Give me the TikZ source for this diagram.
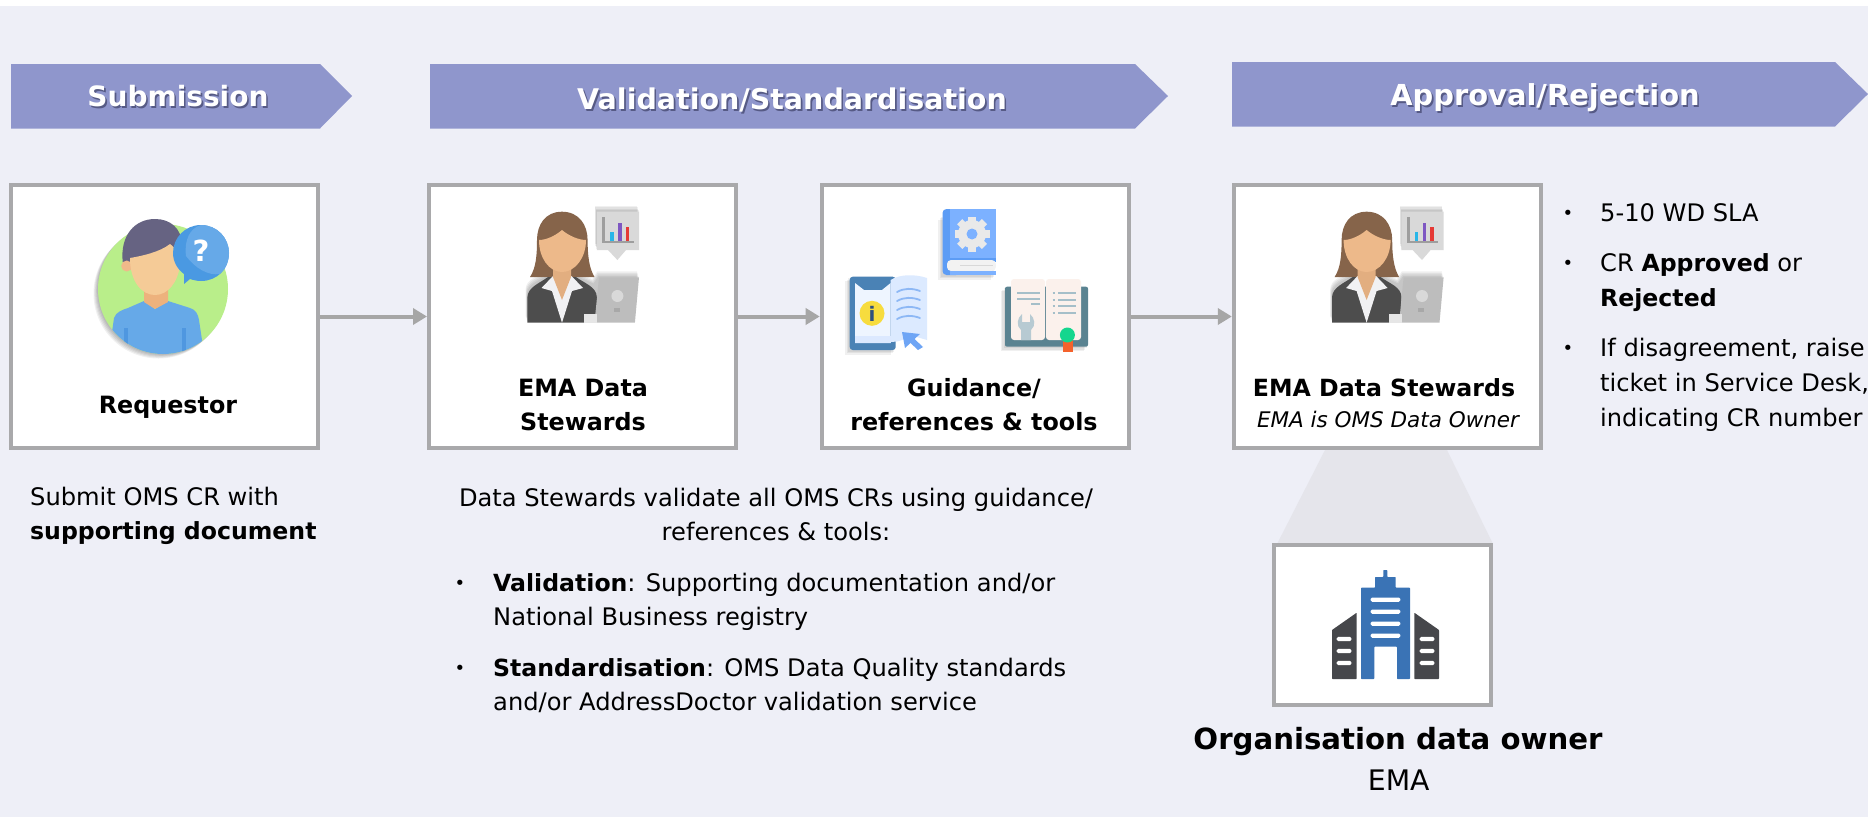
\documentclass[tikz,border=0pt]{standalone}
\usepackage{fontspec}
\setmainfont{DejaVu Sans}
\usetikzlibrary{arrows.meta}
\definecolor{pagebg}{HTML}{EEEFF7}
\definecolor{headfill}{HTML}{8F96CC}
\definecolor{boxline}{HTML}{A9A9AB}
\definecolor{arrowc}{HTML}{A6A6A6}
\definecolor{funnel}{HTML}{E5E5EB}
\definecolor{bldblue}{HTML}{3A73B5}
\definecolor{blddark}{HTML}{46474B}
\definecolor{headshadow}{HTML}{565A85}
\definecolor{infoink}{HTML}{2E4F7F}
\newcommand\fs[2]{\fontsize{#1}{#2}\selectfont}
\newcommand\shtext[1]{\leavevmode\rlap{\kern1.6pt\raisebox{-1.6pt}{\textcolor{headshadow}{#1}}}#1}
\newcommand\bb[1]{{\bfseries\fontsize{23.6}{34}\selectfont #1}}
\tikzset{
  HTML/.code={\definecolor{tmpc}{HTML}{#1}\pgfkeysalso{color=tmpc}},
  stagebox/.style={draw=boxline,line width=4pt,fill=white,minimum width=307pt,minimum height=263pt,inner sep=0pt},
  conn/.style={draw=arrowc,line width=4pt,-{Triangle[length=14pt,width=16pt]}},
  headbar/.style={fill=headfill},
  headtext/.style={text=white,font=\bfseries\fs{28}{34},inner sep=0pt,anchor=center},
  boxlabel/.style={font=\bfseries\fs{23.8}{34},align=center,inner sep=0pt,anchor=base},
  bodytext/.style={font=\fs{24.15}{34},align=left,inner sep=0pt,anchor=base west},
  sidetext/.style={bodytext,font=\fs{24.15}{35}},
  bulletmark/.style={font=\fs{18}{18},inner sep=0pt,anchor=base},
  softshadow/.style={fill=black,fill opacity=.06,draw=none},
}
\newcommand\womanicon{%
  \foreach \d in {1.5,3,4.5,6}{%
    \begin{scope}[shift={(-0.3*\d pt,\d pt)}]
      \path[softshadow] (527.4,322.7) -- (527.4,295) .. controls (528,285) and (540,282) .. (548,277) -- (576,277) -- (594,285) -- (599,277.3) -- (639,277.3) -- (634.9,322.7) -- cycle;
      \path[softshadow] (596.8,211.7) rectangle (639,250);
    \end{scope}}
  \fill[HTML=86644A] (562,211.7) .. controls (545,211.7) and (537,225) .. (537,240) .. controls (537,255) and (536,268) .. (530,277) -- (594.5,277) .. controls (589,268) and (587.6,255) .. (587.6,240) .. controls (587.6,225) and (579,211.7) .. (562,211.7) -- cycle;
  \fill[HTML=4D4D4D] (527.4,322.7) -- (527.4,297) .. controls (528,287) and (540,283) .. (548,277) -- (576,277) .. controls (584,283) and (596.8,287) .. (596.8,297) -- (596.8,322.7) -- cycle;
  \fill[HTML=F1F1F3] (553,276) -- (541.5,288) -- (552,291) -- (562,322.7) -- (572,291) -- (583,288) -- (571.5,276) -- cycle;
  \fill[HTML=E2AE80] (553,262) -- (571,262) -- (571,277) -- (562,300) -- (553,277) -- cycle;
  \fill[HTML=EDB98A] (539,240) .. controls (546,240) and (555,236) .. (562,230) .. controls (569,236) and (579,240) .. (586,240) .. controls (586,258) and (575,272) .. (562,272) .. controls (549,272) and (539,258) .. (539,240) -- cycle;
  \fill[HTML=BDBDBD] (599,277.3) -- (639,277.3) -- (634.9,322.7) -- (594.5,322.7) -- cycle;
  \fill[HTML=E6E6E6] (584,314) rectangle (597,322.7);
  \fill[HTML=D9D9D9] (617.4,296) ellipse[x radius=6pt,y radius=6pt];
  \fill[HTML=A8A8A8] (613.5,307.5) rectangle (619.5,312);
  \fill[HTML=D9D9D9] (596.8,211.7) -- (639,211.7) -- (639,250) -- (626,250) -- (617.4,260) -- (608,250) -- (596.8,250) -- cycle;
  \draw[HTML=9E9E9E,line width=2.8pt] (603.7,217) -- (603.7,242) -- (633.5,242);
  \fill[HTML=29B6E8] (610.2,231.7) rectangle (613.8,241);
  \fill[HTML=7E57C2] (617.9,223) rectangle (621.5,241);
  \fill[HTML=E53935] (625.7,227) rectangle (629.3,241);
}
\begin{document}
\begin{tikzpicture}[x=1pt,y=-1pt]
\useasboundingbox (0,0) rectangle (1868,817);
\fill[white] (0,0) rectangle (1868,817);
\fill[pagebg] (0,6) rectangle (1868,817);

% headers
\fill[headbar] (11,64) -- (320,64) -- (352,96) -- (320,128.5) -- (11,128.5) -- cycle;
\fill[headbar] (430,64) -- (1135,64) -- (1168,96) -- (1135,128.5) -- (430,128.5) -- cycle;
\fill[headbar] (1232,62) -- (1835,62) -- (1868,94) -- (1835,126.5) -- (1232,126.5) -- cycle;
\node[headtext] (hsub) at (178,97) {\shtext{Submission}};
\node[headtext,font=\bfseries\fs{28.5}{34}] (hval) at (792,101) {\shtext{Validation/Standardisation}};
\node[headtext,font=\bfseries\fs{28.9}{34}] (happ) at (1545,98.5) {\shtext{Approval/Rejection}};

% funnel and boxes
\fill[funnel] (1325,450) -- (1447,450) -- (1493,544) -- (1277,544) -- cycle;
\node[stagebox] (req) at (164.8,316.5) {};
\node[stagebox] (ds1) at (582.5,316.5) {};
\node[stagebox] (gd) at (975.2,316.5) {};
\node[stagebox] (ds2) at (1387.3,316.5) {};
\node[draw=boxline,line width=4pt,fill=white,minimum width=217.5pt,minimum height=160pt,inner sep=0pt] (org) at (1382.4,624.7) {};

% connectors
\draw[conn] (req) -- (ds1);
\draw[conn] (ds1) -- (gd);
\draw[conn] (gd) -- (ds2);

% requestor icon
\foreach \d in {1.5,3,4.5,6,7.5}{\path[softshadow] (163-0.6*\d,289+0.6*\d) circle[radius=65pt];}
\fill[HTML=B9EE8A] (163,289) circle[radius=65pt];
\begin{scope}
  \clip (163,289) circle[radius=65pt];
  \fill[HTML=66A9E8] (108,360) -- (114,318) .. controls (116,312) and (122,310) .. (128,308) -- (144,301) -- (155,309) -- (168,301) -- (190,308) .. controls (196,310) and (198,314) .. (199,320) -- (205,360) -- cycle;
  \fill[HTML=4F97E0] (124,328) rectangle (128,360);
  \fill[HTML=4F97E0] (182,328) rectangle (186,360);
\end{scope}
\fill[HTML=EDB27D] (144,285) -- (168,285) -- (168,302) -- (155,309) -- (144,302) -- cycle;
\fill[HTML=666382] (122.7,262) .. controls (120,235) and (135,219) .. (155,219) .. controls (170,219) and (181.7,228) .. (182,245) -- (182,262) -- cycle;
\fill[HTML=F0B98A] (126.7,266) circle[radius=5.5pt];
\fill[HTML=F5CB97] (130,258) .. controls (142,256) and (160,252) .. (170,244) .. controls (178,250) and (180,256) .. (180,265) .. controls (178,282) and (168,295) .. (155,295) .. controls (142,295) and (130,282) .. (130,258) -- cycle;
\fill[HTML=4A99E2] (173,253) .. controls (173,238) and (185,225) .. (201,225) .. controls (217,225) and (229,238) .. (229,253) .. controls (229,269) and (217,281) .. (201,281) .. controls (197,281) and (193,280) .. (190,279) -- (184,284) -- (184,274) .. controls (177,269) and (173,261) .. (173,253) -- cycle;
\fill[HTML=66A9E8] (201,225) .. controls (217,225) and (229,238) .. (229,253) .. controls (229,262) and (225,270) .. (220,274) .. controls (208,276) and (195,268) .. (186,256) .. controls (184,240) and (190,228) .. (201,225) -- cycle;
\node[font=\bfseries\fs{29}{29},text=white,inner sep=0pt,anchor=center] (qm) at (201,251) {?};

% woman icons
\womanicon
\begin{scope}[xshift=804.6pt]\womanicon\end{scope}

% gear book
\foreach \d in {1.5,3,4.5}{\path[softshadow] (942.5-\d,215+\d) rectangle (995.8-\d,275+\d);}
\fill[HTML=5C9CF5,rounded corners=4pt] (942.5,209) rectangle (960,275);
\fill[HTML=7CB1FF] (950,209) rectangle (995.8,262);
\fill[HTML=5C9CF5] (950,258) rectangle (995.8,262);
\fill[HTML=F2F2F2,rounded corners=4pt] (947,260) rectangle (995.8,271);
\fill[HTML=7CB1FF] (950,271) rectangle (995.8,275);
\draw[HTML=D8D8D8,line width=1pt] (960,265.5) -- (993,265.5);
\fill[HTML=E9E9E9] (972,234) circle[radius=14pt];
\foreach \a in {0,45,...,315}{\fill[HTML=E9E9E9,rotate around={\a:(972,234)}] (968.3,216.5) rectangle (975.7,224);}
\fill[HTML=7CB1FF] (972,234) circle[radius=5.5pt];

% info phone/book
\foreach \d in {1.5,3,4.5}{\path[softshadow] (849.7-\d,276.7+\d) rectangle (895.7-\d,350+\d);}
\fill[HTML=4A82B5,rounded corners=3pt] (849.7,276.7) rectangle (895.7,350);
\fill[HTML=EEF5FF] (855,283) -- (864,290) -- (882,290) -- (890.6,283) -- (890.6,343) -- (855,343) -- cycle;
\fill[HTML=DCE9FF] (855,336) rectangle (890.6,343);
\fill[HTML=DCEAFF] (890.6,280) .. controls (900,274) and (915,274) .. (927,278) -- (927,340) -- (910,335) .. controls (905,340) and (898,342) .. (890.6,342) -- cycle;
\foreach \yy in {289,298,307,316}{\draw[HTML=8DB8F5,line width=1.8pt,line cap=round] (897,\yy+3) .. controls (904,\yy-1) and (912,\yy-1) .. (920,\yy+2);}
\fill[HTML=F7DC3E] (872,313.3) circle[radius=12.5pt];
\node[font=\bfseries\fs{20}{20},text=infoink,inner sep=0pt,anchor=center] (inf) at (872,313.5) {i};
\fill[HTML=6EA5F5] (902,332) -- (920,334) -- (914.5,339) -- (923,347) -- (918,350) -- (910.5,343) -- (905,348) -- cycle;

% wrench book
\foreach \d in {1.5,3,4.5}{\path[softshadow] (1005-\d,286.7+\d) rectangle (1088-\d,346.7+\d);}
\fill[HTML=5A8391,rounded corners=2pt] (1005,286.7) rectangle (1088,346.7);
\fill[HTML=FBF1EC,rounded corners=3pt] (1011,279) rectangle (1045,340);
\fill[HTML=FBF1EC,rounded corners=3pt] (1046,279) rectangle (1081,340);
\draw[HTML=A5BFC9,line width=2pt] (1017,293) -- (1040,293) (1017,298.5) -- (1040,298.5) (1031,304) -- (1040,304);
\draw[HTML=A5BFC9,line width=2pt] (1052.7,293.3) -- (1054.5,293.3) (1058,293.3) -- (1075.6,293.3) (1052.7,299.5) -- (1054.5,299.5) (1058,299.5) -- (1075.6,299.5) (1052.7,306) -- (1054.5,306) (1058,306) -- (1075.6,306) (1052.7,312.5) -- (1054.5,312.5) (1058,312.5) -- (1075.6,312.5);
\fill[HTML=B7CAD2] (1021,340) -- (1021,330) .. controls (1016,326) and (1017,318) .. (1022,314) -- (1022,322) -- (1030,322) -- (1030,314) .. controls (1035,318) and (1036,326) .. (1031,330) -- (1031,340) -- cycle;
\fill[HTML=F4622C] (1063,338) rectangle (1073,351.7);
\fill[HTML=14D68E] (1067.4,335) circle[radius=7.5pt];

% building
\fill[blddark,rounded corners=.6pt] (1332,679) -- (1332,630) -- (1356.7,612.7) -- (1356.7,679) -- cycle;
\fill[blddark,rounded corners=.6pt] (1414.3,679) -- (1414.3,612.7) -- (1439,630) -- (1439,679) -- cycle;
\fill[bldblue,rounded corners=.6pt] (1361,679) -- (1361,587.7) -- (1375,587.7) -- (1375,577) -- (1383.3,577) -- (1383.3,570) -- (1387.3,570) -- (1387.3,577) -- (1395.7,577) -- (1395.7,587.7) -- (1410,587.7) -- (1410,679) -- (1397,679) -- (1397,646.7) -- (1374.3,646.7) -- (1374.3,679) -- cycle;
\foreach \yy in {599.7,611.7,623.7,635.7}{\fill[white,rounded corners=1.5pt] (1370.7,\yy-2.2) rectangle (1400.3,\yy+2.2);}
\foreach \yy in {639,651,663}{
  \fill[white,rounded corners=1.5pt] (1336.7,\yy-2.2) rectangle (1351.3,\yy+2.2);
  \fill[white,rounded corners=1.5pt] (1419.7,\yy-2.2) rectangle (1434.3,\yy+2.2);}

% box labels
\node[boxlabel] (lreq) at (168,413) {Requestor};
\node[boxlabel] (lds1) at (583,430.7) {EMA Data\\Stewards};
\node[boxlabel] (lgd) at (974,430.7) {Guidance/\\references \& tools};
\node[boxlabel,font=\bfseries\fs{23.65}{34}] (lds2) at (1384,396) {EMA Data Stewards};
\node[boxlabel,font=\itshape\fs{21.5}{30}] (lds2b) at (1388,427) {EMA is OMS Data Owner};

% left text
\node[bodytext] (tsub) at (30,539) {Submit OMS CR with\\\bb{supporting document}};

% centre text
\node[bodytext,align=center,anchor=base] (tval) at (776,540.7) {Data Stewards validate all OMS CRs using guidance/\\references \& tools:};
\node[bulletmark] (b1) at (460,589.7) {•};
\node[bodytext] (tv1) at (493,625.7) {\bb{Validation}: Supporting documentation and/or\\National Business registry};
\node[bulletmark] (b2) at (460,674.7) {•};
\node[bodytext] (tv2) at (493,710.7) {\bb{Standardisation}: OMS Data Quality standards\\and/or AddressDoctor validation service};

% right text
\node[bulletmark] (r1) at (1568,219.7) {•};
\node[sidetext] (tr1) at (1600,221.7) {5-10 WD SLA};
\node[bulletmark] (r2) at (1568,269.7) {•};
\node[sidetext] (tr2) at (1600,306.7) {CR \bb{Approved} or\\\bb{Rejected}};
\node[bulletmark] (r3) at (1568,354.7) {•};
\node[sidetext] (tr3) at (1600,426.7) {If disagreement, raise\\ticket in Service Desk,\\indicating CR number};

% organisation caption
\node[font=\bfseries\fs{29.2}{36},inner sep=0pt,anchor=base] (torg) at (1398,749) {Organisation data owner};
\node[font=\fs{28.3}{34},inner sep=0pt,anchor=base] (tema) at (1398.7,790.7) {EMA};
\end{tikzpicture}
\end{document}
